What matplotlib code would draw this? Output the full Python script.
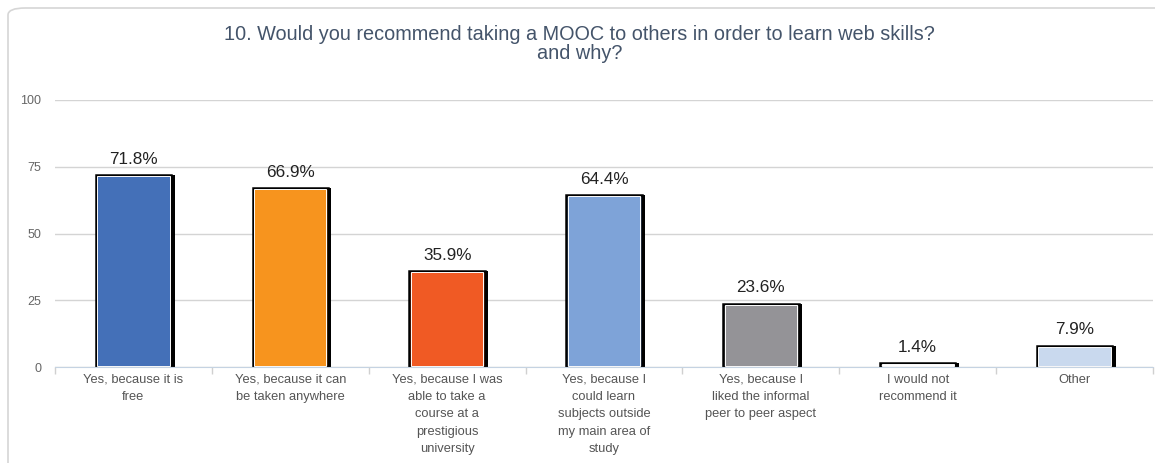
import matplotlib.pyplot as plt
import numpy as np
from matplotlib.patches import FancyBboxPatch

# ----------------------------------------------------------------- data
TITLE = "10. Would you recommend taking a MOOC to others in order to learn web skills?\nand why?"
categories = [
    "Yes, because it is\nfree",
    "Yes, because it can\nbe taken anywhere",
    "Yes, because I was\nable to take a\ncourse at a\nprestigious\nuniversity",
    "Yes, because I\ncould learn\nsubjects outside\nmy main area of\nstudy",
    "Yes, because I\nliked the informal\npeer to peer aspect",
    "I would not\nrecommend it",
    "Other",
]
values = [71.8, 66.9, 35.9, 64.4, 23.6, 1.4, 7.9]
colors = ["#4470b8", "#f7941e", "#f05a24", "#7ea3d8", "#949397", "#ffffff", "#c9d9ee"]
yticks = [0, 25, 50, 75, 100]

plt.rcParams["font.family"] = ["Liberation Sans", "DejaVu Sans"]

fig = plt.figure(figsize=(11.55, 4.63), dpi=100)

# rounded card frame behind the chart
frame = FancyBboxPatch((8 / 1155, -0.2), 1.2, 1 - 8 / 463 + 0.2,
                       boxstyle="round,pad=0,rounding_size=0.015",
                       transform=fig.transFigure, facecolor="white",
                       edgecolor="#d6d6d6", lw=1.2, zorder=-5)
fig.patches.append(frame)

ax = fig.add_axes([55 / 1155, 1 - 367 / 463, 1098 / 1155, 267 / 463])
ax.set_facecolor("none")
ax.set_zorder(2)

x = np.arange(len(values))
w = 0.48
px = 1 / 157  # roughly one pixel in x data units
py = 100 / 267  # one pixel in y data units

# shadow, bar, thin white inner line
ax.bar(x + 3.5 * px, values, width=w, color="black", zorder=2)
ax.bar(x, values, width=w, color=colors, edgecolor="black", lw=1.8, zorder=3)
ax.bar(x, [max(v - 2.2 * py, 0) for v in values], bottom=1.1 * py,
       width=w - 3 * px, color="none", edgecolor="white", lw=0.7, zorder=4)

for xi, v in zip(x, values):
    ax.text(xi, v + 3.2, f"{v}%", ha="center", va="bottom",
            fontsize=12.3, color="#222222")

ax.set_xlim(-0.5, len(values) - 0.5)
ax.set_ylim(0, 100)
ax.set_yticks(yticks)
ax.set_yticklabels([str(t) for t in yticks], color="#666666", fontsize=9)
ax.grid(axis="y", color="#d4d4d4", lw=1)
ax.set_axisbelow(True)

ax.set_xticks(x)
ax.set_xticklabels(categories, color="#555555", fontsize=9.3, linespacing=1.58)
ax.set_xticks(np.arange(len(values) + 1) - 0.5, minor=True)
ax.tick_params(axis="x", which="major", length=0, pad=5)
ax.tick_params(axis="x", which="minor", length=5, color="#d0d0d0", width=1)
ax.tick_params(axis="y", length=0, pad=10)

for s in ["top", "right", "left"]:
    ax.spines[s].set_visible(False)
ax.spines["bottom"].set_color("#c5d3e2")
ax.spines["bottom"].set_zorder(5)

fig.text(0.502, 1 - 44 / 463, TITLE, ha="center", va="center",
         fontsize=14.3, color="#44546a", linespacing=1.0)

fig.savefig("out.png", dpi=100)
